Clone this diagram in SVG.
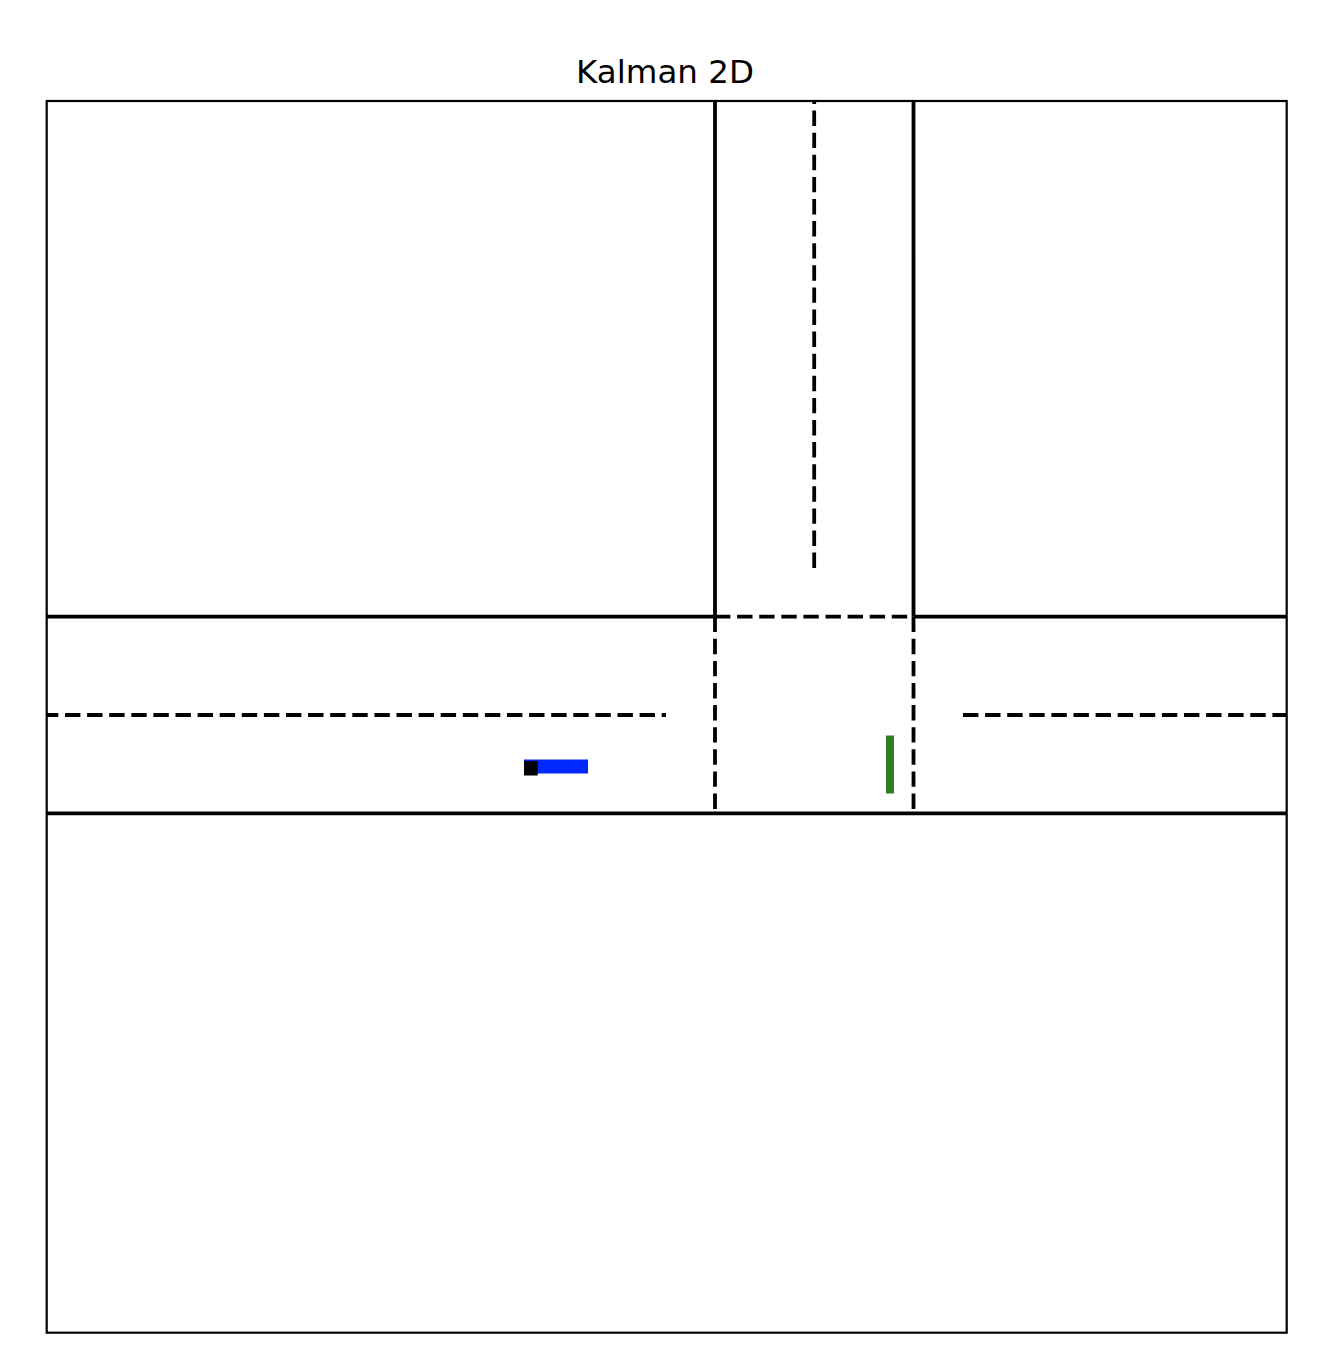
<svg xmlns="http://www.w3.org/2000/svg" width="1322" height="1366" viewBox="0 0 1322 1366">
  <style>
    .solid { stroke: #000; stroke-width: 3.8; fill: none; }
    .dash { stroke: #000; stroke-width: 3.8; fill: none; stroke-dasharray: 15.4 6.7; }
    .frame { stroke: #000; stroke-width: 2.2; fill: none; }
    .title { font-family: "DejaVu Sans", sans-serif; font-size: 32.5px; fill: #000; }
  </style>
  <defs>
    <clipPath id="axclip"><rect x="46.7" y="101" width="1240" height="1231.7"/></clipPath>
  </defs>
  <rect width="1322" height="1366" fill="#fff"/>
  <text id="title" class="title" x="665" y="83" text-anchor="middle">Kalman 2D</text>
  <g id="roads" clip-path="url(#axclip)">
    <g id="solid-lines">
      <path class="solid" d="M46.7 616.7 H715 M913.5 616.7 H1286.7"/>
      <path class="solid" d="M715 101 V616.7 M913.5 101 V616.7"/>
      <path class="solid" d="M46.7 813.3 H1286.7"/>
    </g>
    <g id="dashed-lines">
      <path class="dash" d="M715 616.7 H913.5"/>
      <path class="dash" d="M715 616.7 V813.3"/>
      <path class="dash" d="M913.5 616.7 V813.3"/>
      <path class="dash" d="M814.2 568 V95"/>
      <path class="dash" d="M42.9 715 H666"/>
      <path class="dash" d="M963 715 H1290"/>
    </g>
  </g>
  <g id="blue-car">
    <rect x="524" y="759.5" width="64" height="14" fill="#0028ff"/>
  </g>
  <g id="black-marker">
    <rect x="524" y="761" width="13.7" height="14.5" fill="#000"/>
  </g>
  <g id="green-car">
    <rect x="886" y="735.5" width="8" height="58" fill="#2f7d20"/>
  </g>
  <rect id="axes-frame" class="frame" x="46.7" y="101" width="1240" height="1231.7"/>
</svg>
